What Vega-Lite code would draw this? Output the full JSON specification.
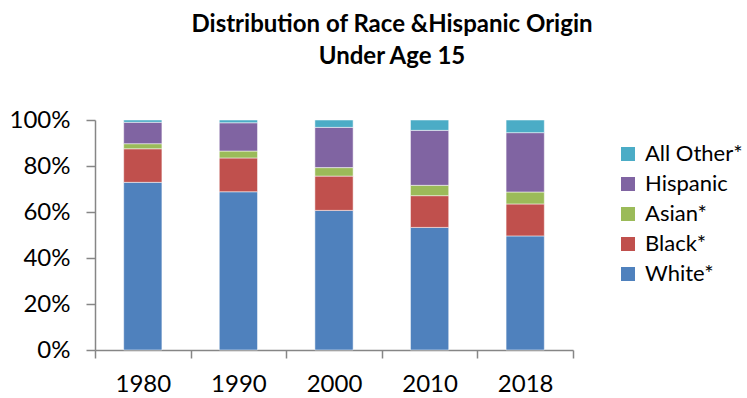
{
  "$schema": "https://vega.github.io/schema/vega-lite/v6.json",
  "autosize": "none",
  "width": 478,
  "height": 230,
  "padding": {"left": 95, "top": 120, "right": 174, "bottom": 48},
  "background": "white",
  "title": {
    "text": ["Distribution of Race &Hispanic Origin", "Under Age 15"],
    "anchor": "middle",
    "frame": "group",
    "dx": 58,
    "offset": 39,
    "font": "Lato",
    "fontSize": 24,
    "fontWeight": "bold",
    "color": "#000000",
    "lineHeight": 32
  },
  "data": {
    "values": [
      {"year": "1980", "group": "White*", "share": 0.729},
      {"year": "1980", "group": "Black*", "share": 0.146},
      {"year": "1980", "group": "Asian*", "share": 0.022},
      {"year": "1980", "group": "Hispanic", "share": 0.093},
      {"year": "1980", "group": "All Other*", "share": 0.010},
      {"year": "1990", "group": "White*", "share": 0.688},
      {"year": "1990", "group": "Black*", "share": 0.147},
      {"year": "1990", "group": "Asian*", "share": 0.030},
      {"year": "1990", "group": "Hispanic", "share": 0.123},
      {"year": "1990", "group": "All Other*", "share": 0.012},
      {"year": "2000", "group": "White*", "share": 0.607},
      {"year": "2000", "group": "Black*", "share": 0.149},
      {"year": "2000", "group": "Asian*", "share": 0.037},
      {"year": "2000", "group": "Hispanic", "share": 0.175},
      {"year": "2000", "group": "All Other*", "share": 0.032},
      {"year": "2010", "group": "White*", "share": 0.533},
      {"year": "2010", "group": "Black*", "share": 0.138},
      {"year": "2010", "group": "Asian*", "share": 0.045},
      {"year": "2010", "group": "Hispanic", "share": 0.239},
      {"year": "2010", "group": "All Other*", "share": 0.045},
      {"year": "2018", "group": "White*", "share": 0.496},
      {"year": "2018", "group": "Black*", "share": 0.139},
      {"year": "2018", "group": "Asian*", "share": 0.052},
      {"year": "2018", "group": "Hispanic", "share": 0.258},
      {"year": "2018", "group": "All Other*", "share": 0.055}
    ]
  },
  "transform": [
    {"calculate": "indexof(['White*', 'Black*', 'Asian*', 'Hispanic', 'All Other*'], datum.group)", "as": "stackOrder"}
  ],
  "mark": {"type": "bar", "width": {"band": 0.4}, "stroke": "white", "strokeWidth": 1, "strokeOpacity": 0.5},
  "encoding": {
    "x": {
      "field": "year",
      "type": "nominal",
      "scale": {"paddingInner": 0, "paddingOuter": 0},
      "axis": {
        "title": null,
        "labelAngle": 0,
        "tickBand": "extent",
        "tickSize": 8,
        "tickColor": "#868686",
        "tickWidth": 1.5,
        "domainColor": "#868686",
        "domainWidth": 1.5,
        "labelFont": "Lato",
        "labelFontSize": 24,
        "labelColor": "#000000",
        "labelPadding": 14
      }
    },
    "y": {
      "field": "share",
      "type": "quantitative",
      "stack": "zero",
      "scale": {"domain": [0, 1], "nice": false},
      "axis": {
        "title": null,
        "format": ".0%",
        "values": [0, 0.2, 0.4, 0.6, 0.8, 1],
        "grid": false,
        "tickSize": 9,
        "tickColor": "#868686",
        "tickWidth": 1.5,
        "domainColor": "#868686",
        "domainWidth": 1.5,
        "labelFont": "Lato",
        "labelFontSize": 24,
        "labelColor": "#000000",
        "labelPadding": 16
      }
    },
    "color": {
      "field": "group",
      "type": "nominal",
      "scale": {
        "domain": ["All Other*", "Hispanic", "Asian*", "Black*", "White*"],
        "range": ["#4BACC6", "#8064A2", "#9BBB59", "#C0504D", "#4F81BD"]
      },
      "legend": {
        "title": null,
        "orient": "none",
        "legendX": 522,
        "legendY": 23,
        "symbolType": "square",
        "symbolSize": 196,
        "symbolStrokeWidth": 0,
        "labelFont": "Lato",
        "labelFontSize": 22,
        "labelColor": "#000000",
        "labelOffset": 6,
        "labelLimit": 200,
        "rowPadding": 8
      }
    },
    "order": {"field": "stackOrder", "type": "quantitative"}
  },
  "config": {
    "view": {"stroke": null}
  }
}
